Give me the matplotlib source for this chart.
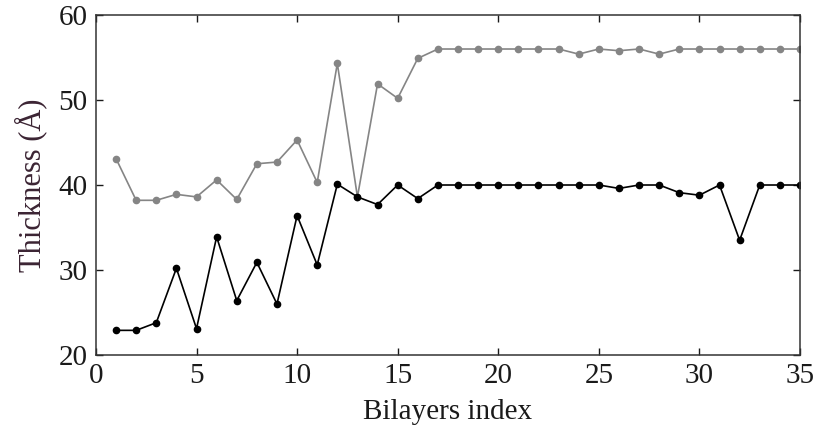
"""Thickness vs bilayers index, two series (gray and black)."""
import matplotlib
matplotlib.use("Agg")
import matplotlib.pyplot as plt

INK = "#1a1a1a"
GRAY = "#858585"

bilayer = list(range(1, 36))
thick_gray = [43.1, 38.2, 38.2, 38.9, 38.6, 40.6, 38.3, 42.5, 42.7, 45.3,
              40.3, 54.3, 38.6, 51.9, 50.2, 54.9, 56.0, 56.0, 56.0, 56.0,
              56.0, 56.0, 56.0, 55.4, 56.0, 55.8, 56.0, 55.4, 56.0, 56.0,
              56.0, 56.0, 56.0, 56.0, 56.0]
thick_black = [22.9, 22.9, 23.8, 30.2, 23.1, 33.9, 26.4, 30.9, 26.0, 36.4,
               30.6, 40.1, 38.6, 37.7, 40.0, 38.4, 40.0, 40.0, 40.0, 40.0,
               40.0, 40.0, 40.0, 40.0, 40.0, 39.6, 40.0, 40.0, 39.1, 38.8,
               40.0, 33.5, 40.0, 40.0, 40.0]

plt.rcParams["font.family"] = ["Liberation Serif", "DejaVu Serif"]

fig = plt.figure(figsize=(8.13, 4.29), dpi=100)
ax = fig.add_axes([0.118, 0.1725, 0.866, 0.7925])

ax.plot(bilayer, thick_gray, color=GRAY, linewidth=1.2, marker="o", markersize=4.5)
ax.plot(bilayer, thick_black, color="black", linewidth=1.2, marker="o", markersize=4.5)

ax.set_xlim(0, 35)
ax.set_ylim(20, 60)
ax.set_xticks(range(0, 36, 5))
ax.set_yticks(range(20, 61, 10))
ax.tick_params(direction="in", top=True, right=True, length=5, width=1,
               labelsize=21, colors=INK)
ax.tick_params(axis="x", pad=6)
ax.tick_params(axis="y", pad=6)
for s in ax.spines.values():
    s.set_linewidth(1.1)
    s.set_color("#333333")

ax.set_xlabel("Bilayers index", fontsize=21, color=INK, labelpad=7)
ax.set_ylabel("Thickness (Å)", fontsize=22, color="#3b2433", labelpad=8)

fig.savefig("out.png", dpi=100)
